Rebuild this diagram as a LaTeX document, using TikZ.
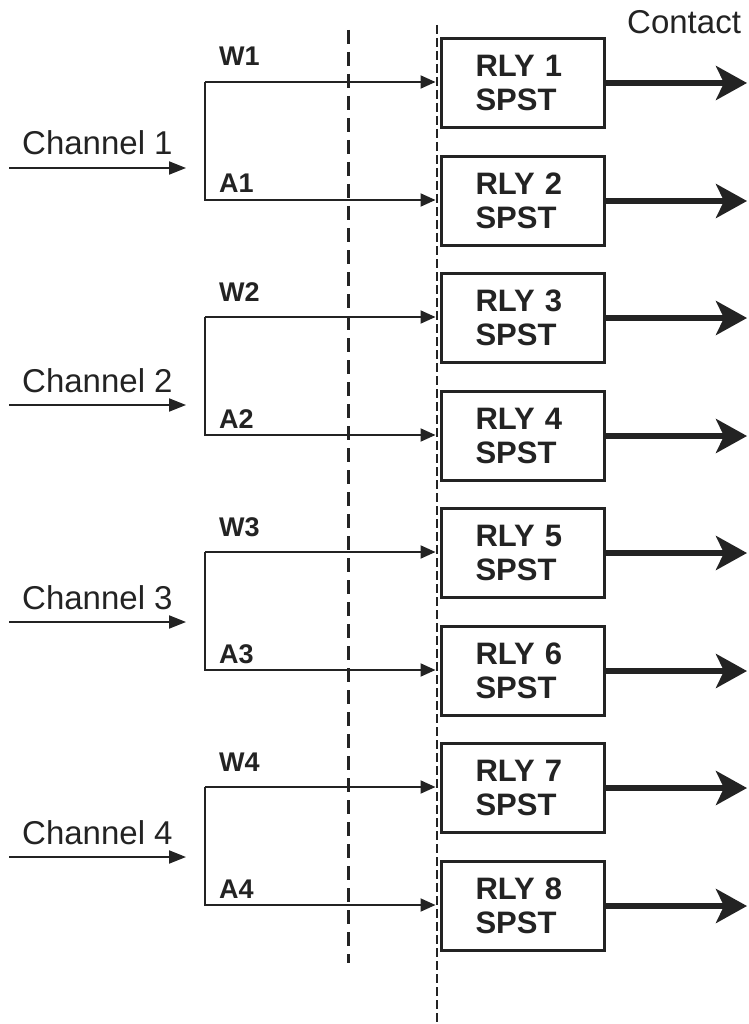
\documentclass[tikz,border=0pt]{standalone}
\usepackage{fontspec}
\setmainfont{Liberation Sans}
\usetikzlibrary{arrows.meta}
\definecolor{ink}{RGB}{35,35,35}
\begin{document}
\begin{tikzpicture}[x=1pt,y=-1pt,
  every node/.style={text=ink},
  relay/.style={draw=ink, line width=3pt, minimum height=89pt, inner xsep=34pt, text width=95pt, align=left, inner ysep=0pt, font=\fontsize{31}{34}\selectfont\bfseries},
  sig/.style={draw=ink, line width=2pt, -{Triangle[length=15pt,width=13pt]}},
  chsig/.style={draw=ink, line width=2pt, -{Triangle[length=17pt,width=13pt]}},
  outarr/.style={draw=ink, line width=5.5pt, -{Stealth[length=31pt,width=34pt,inset=8pt]}},
  chlab/.style={font=\fontsize{33}{33}\selectfont, anchor=base west, inner sep=0pt},
  wlab/.style={font=\fontsize{27}{27}\selectfont\bfseries, anchor=base west, inner sep=0pt},
  divA/.style={draw=ink, line width=3pt, dash pattern=on 14pt off 8pt},
  divB/.style={draw=ink, line width=2.5pt, dash pattern=on 9pt off 4pt}]
\useasboundingbox[fill=white] (0,0) rectangle (748,1024);
% dashed separators
\coordinate (d1t) at (348,30);
\coordinate (d1b) at (348,963);
\coordinate (d2t) at (437,25);
\coordinate (d2b) at (437,1024);
\draw[divA] (d1t) -- (d1b);
% channels
\foreach \i/\wy/\ay/\cy in {1/82/200/168, 2/317/435/405, 3/552/670/622, 4/787/905/857} {
  \pgfmathtruncatemacro\ra{2*\i-1}
  \pgfmathtruncatemacro\rb{2*\i}
  \node[relay] (r\ra) at (523,\wy+1) {RLY \ra\\SPST};
  \node[relay] (r\rb) at (523,\ay+1) {RLY \rb\\SPST};
  \coordinate (jW\i) at (205,\wy);
  \coordinate (jA\i) at (205,\ay);
  \draw[sig, shorten >=4.5pt] (jW\i) -- (jW\i -| r\ra.west);
  \draw[sig, shorten >=4.5pt] (jW\i) -- (jA\i) -- (jA\i -| r\rb.west);
  \coordinate (o\ra) at (747,\wy+1);
  \coordinate (o\rb) at (747,\ay+1);
  \draw[outarr] (r\ra.east) -- (o\ra);
  \draw[outarr] (r\rb.east) -- (o\rb);
  \coordinate (cs\i) at (9,\cy);
  \coordinate (ce\i) at (186,\cy);
  \draw[chsig] (cs\i) -- (ce\i);
  \node[chlab] (cl\i) at (22,\cy-13) {Channel \i};
  \node[wlab] (w\i) at (219,\wy-16) {W\i};
  \node[wlab] (a\i) at (219,\ay-7) {A\i};
}
\draw[divB] (d2t) -- (d2b);
\node[chlab] (contact) at (627,34) {Contact};
\end{tikzpicture}
\end{document}
